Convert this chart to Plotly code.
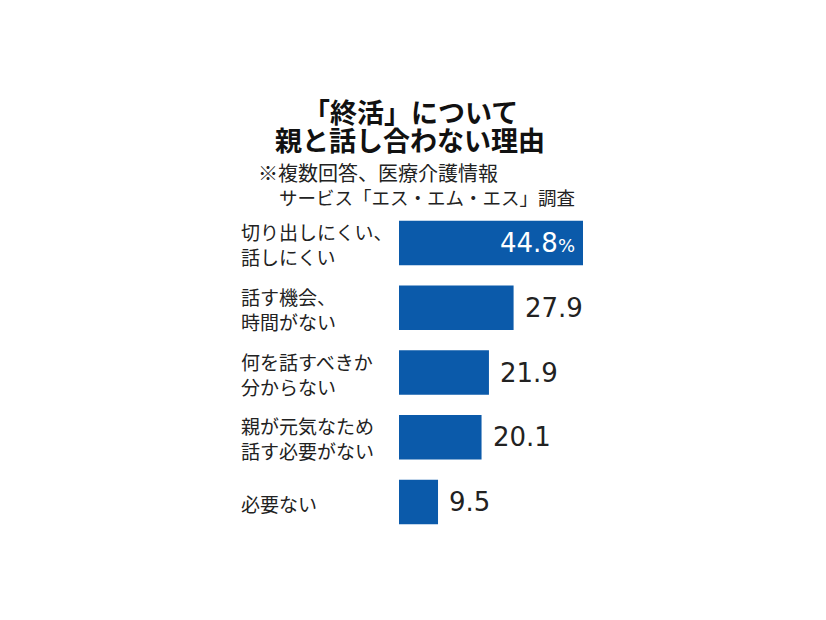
import plotly.graph_objects as go

categories = ["切り出しにくい、<br>話しにくい", "話す機会、<br>時間がない", "何を話すべきか<br>分からない",
              "親が元気なため<br>話す必要がない", "必要ない"]
values = [44.8, 27.9, 21.9, 20.1, 9.5]
value_labels = ["44.8<span style='font-size:18px'>%</span>", "27.9", "21.9", "20.1", "9.5"]
title_lines = ["「終活」について", "親と話し合わない理由"]
note_lines = ["※複数回答、医療介護情報", "サービス「エス・エム・エス」調査"]

W, H = 826, 620
OFF = 8  # page body margin compensation
BAR_COLOR = "#0B5AAA"
JP = "Noto Sans CJK JP"
NUM = "DejaVu Sans"

# pixel geometry (reference coordinates)
x0_px, x1_px = 399, 640
px_per_unit = 184 / 44.8
y_top_px, y_bot_px = 210.6, 534.4


def px_x(p):
    return (p - OFF) / W


def px_y(p):
    return 1 - (p - OFF) / H


fig = go.Figure()
ypos = list(range(len(categories)))
fig.add_trace(go.Bar(
    x=values, y=ypos, orientation="h",
    marker=dict(color=BAR_COLOR, line=dict(width=0)),
    width=0.687, hoverinfo="skip",
))

annotations = []
for i, (c, v, t) in enumerate(zip(categories, values, value_labels)):
    annotations.append(dict(
        x=px_x(239), xref="paper", y=i, yref="y", yshift=-1, text=c, showarrow=False,
        xanchor="left", yanchor="middle", align="left",
        font=dict(family=JP, size=19, color="#222222"),
    ))
    if i == 0:
        annotations.append(dict(
            x=v, xref="x", y=i, yref="y", text=t, showarrow=False,
            xanchor="right", yanchor="middle", xshift=-6,
            font=dict(family=NUM, size=26, color="white"),
        ))
    else:
        annotations.append(dict(
            x=v, xref="x", y=i, yref="y", text=t, showarrow=False,
            xanchor="left", yanchor="middle", xshift=9,
            font=dict(family=NUM, size=26, color="#222222"),
        ))

for txt, ypx in zip(title_lines, [112, 139]):
    annotations.append(dict(
        x=px_x(410), y=px_y(ypx), xref="paper", yref="paper", text="<b>" + txt + "</b>",
        showarrow=False, xanchor="center", yanchor="middle",
        font=dict(family=JP, size=27, color="#111111"),
    ))

note_text = ("<span style='font-size:20px'>" + note_lines[0] + "</span><br>"
             "<span style='font-size:21px'>\u3000</span>" + note_lines[1])
annotations.append(dict(
    x=px_x(256), y=px_y(184), xref="paper", yref="paper", text=note_text,
    showarrow=False, xanchor="left", yanchor="middle", align="left",
    font=dict(family=JP, size=18.5, color="#222222"),
))

fig.update_layout(
    width=W, height=H, margin=dict(l=0, r=0, t=0, b=0),
    paper_bgcolor="white", plot_bgcolor="white", showlegend=False,
    xaxis=dict(domain=[px_x(x0_px), px_x(x1_px)], range=[0, (x1_px - x0_px) / px_per_unit],
               visible=False, fixedrange=True),
    yaxis=dict(domain=[px_y(y_bot_px), px_y(y_top_px)], range=[4.5, -0.5],
               visible=False, fixedrange=True),
    annotations=annotations,
)

fig.write_html("out.html", config={"displayModeBar": False})
